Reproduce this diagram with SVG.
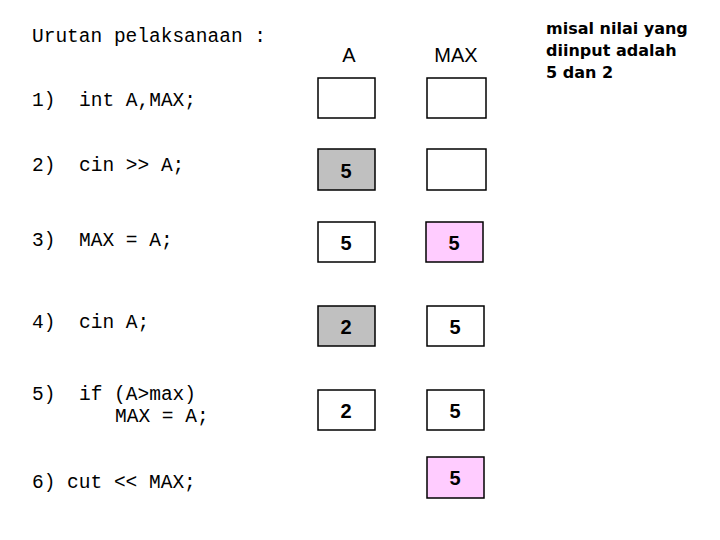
<svg xmlns="http://www.w3.org/2000/svg" width="720" height="540" viewBox="0 0 720 540">
<style>
.c{font-family:"Liberation Mono","Courier New",monospace;font-size:19.5px;fill:#000}
.n{font-family:"Liberation Sans",Arial,sans-serif;font-size:20px;fill:#000;text-anchor:middle}
.v{font-weight:bold}
.b{stroke:#000;stroke-width:1.5;fill:#fff}
.g{fill:#c0c0c0}.p{fill:#ffccff}
.m{font-family:"Comic Sans MS","DejaVu Sans",sans-serif;font-size:16px;font-weight:bold;fill:#000}
</style>
<rect width="720" height="540" fill="#fff"/>
<g id="code">
<text class="c" x="32" y="42">Urutan pelaksanaan :</text>
<text class="c" x="32" y="106">1)</text><text class="c" x="79" y="106">int A,MAX;</text>
<text class="c" x="32" y="171">2)</text><text class="c" x="79" y="171">cin &gt;&gt; A;</text>
<text class="c" x="32" y="246">3)</text><text class="c" x="79" y="246">MAX = A;</text>
<text class="c" x="32" y="328">4)</text><text class="c" x="79" y="328">cin A;</text>
<text class="c" x="32" y="400">5)</text><text class="c" x="79" y="400">if (A&gt;max)</text>
<text class="c" x="115" y="422">MAX = A;</text>
<text class="c" x="32" y="488">6) cut &lt;&lt; MAX;</text>
</g>
<g id="headers">
<text class="n" x="349" y="62">A</text>
<text class="n" x="456" y="62">MAX</text>
</g>
<g id="note">
<text class="m" x="546" y="34">misal nilai yang</text>
<text class="m" x="546" y="56">diinput adalah</text>
<text class="m" x="546" y="78">5 dan 2</text>
</g>
<g id="row1"><rect class="b" x="318" y="78" width="57" height="40"/><rect class="b" x="427" y="78" width="59" height="40"/></g>
<g id="row2"><rect class="b g" x="318" y="149" width="57" height="41"/><text class="n v" x="346" y="178">5</text><rect class="b" x="427" y="149" width="59" height="41"/></g>
<g id="row3"><rect class="b" x="318" y="222" width="57" height="40"/><text class="n v" x="346" y="250">5</text><rect class="b p" x="426" y="222" width="57" height="40"/><text class="n v" x="454" y="250">5</text></g>
<g id="row4"><rect class="b g" x="318" y="306" width="57" height="40"/><text class="n v" x="346" y="334">2</text><rect class="b" x="427" y="306" width="57" height="40"/><text class="n v" x="455" y="334">5</text></g>
<g id="row5"><rect class="b" x="318" y="390" width="57" height="40"/><text class="n v" x="346" y="418">2</text><rect class="b" x="427" y="390" width="57" height="40"/><text class="n v" x="455" y="418">5</text></g>
<g id="row6"><rect class="b p" x="427" y="457" width="57" height="41"/><text class="n v" x="455" y="485">5</text></g>
<g id="connectors"/>
</svg>
